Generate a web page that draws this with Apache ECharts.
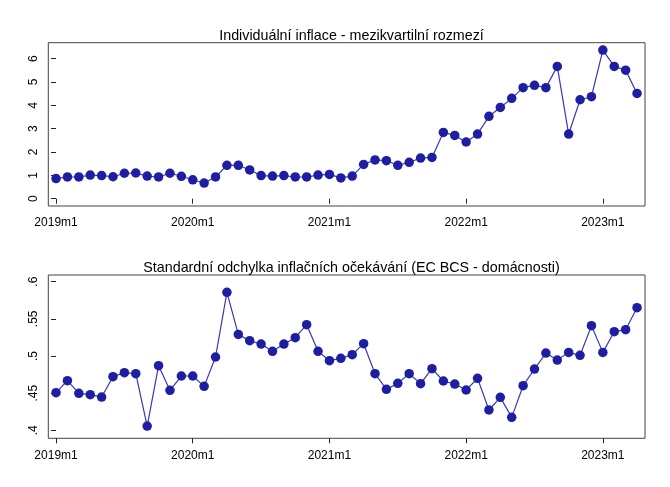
<!DOCTYPE html>
<html>
<head>
<meta charset="utf-8">
<script src="https://cdn.jsdelivr.net/npm/echarts@6/dist/echarts.min.js"></script>
<style>
  html, body { margin: 0; padding: 0; background: #fff; }
  #chart { width: 670px; height: 487px; }
</style>
</head>
<body>
<div id="chart"></div>
<script>
// months 2019m1 .. 2023m4
const months = [];
for (let y = 2019; y <= 2023; y++) {
  for (let m = 1; m <= 12; m++) {
    if (y === 2023 && m > 4) break;
    months.push(y + "m" + m);
  }
}

// individual inflation - interquartile range
const iqrValues = [
  0.86, 0.93, 0.93, 1.01, 0.99, 0.94, 1.09, 1.10, 0.97, 0.93, 1.09, 0.96,
  0.81, 0.67, 0.93, 1.43, 1.43, 1.23, 0.99, 0.97, 0.99, 0.93, 0.93, 1.01,
  1.04, 0.89, 0.97, 1.47, 1.66, 1.63, 1.43, 1.56, 1.74, 1.77, 2.84, 2.71,
  2.43, 2.77, 3.53, 3.91, 4.30, 4.76, 4.86, 4.76, 5.67, 2.77, 4.24, 4.37,
  6.37, 5.67, 5.51, 4.51
];

// std dev of inflation expectations (EC BCS - households)
const sdValues = [
  0.4507, 0.4668, 0.4498, 0.4480, 0.4448, 0.4722, 0.4776, 0.4762, 0.4058, 0.4870, 0.4538, 0.4731,
  0.4731, 0.4592, 0.4987, 0.5857, 0.5291, 0.5206, 0.5161, 0.5063, 0.5161, 0.5247, 0.5422, 0.5063,
  0.4937, 0.4969, 0.5018, 0.5166, 0.4762, 0.4552, 0.4632, 0.4762, 0.4628, 0.4830, 0.4664, 0.4623,
  0.4543, 0.4700, 0.4274, 0.4444, 0.4175, 0.4601, 0.4825, 0.5040, 0.4946, 0.5049, 0.5009, 0.5408,
  0.5049, 0.5327, 0.5354, 0.5650
];

const xTickIdx = [0, 12, 24, 36, 48];
const yTicksTop = [0, 1, 2, 3, 4, 5, 6];
const yTicksBottom = [0.4, 0.45, 0.5, 0.55, 0.6];
const yLabelsBottom = [".4", ".45", ".5", ".55", ".6"];

const titles = [
  "Individuální inflace - mezikvartilní rozmezí",
  "Standardní odchylka inflačních očekávání (EC BCS - domácnosti)"
];

const FONT = "Arial, 'Liberation Sans', sans-serif";
const lineCol = "#3838b2";
const dotCol = "#1e1ea2";

const chart = echarts.init(document.getElementById("chart"), null, { renderer: "canvas" });

function xAxisFor(gridIndex) {
  return {
    type: "value",
    gridIndex: gridIndex,
    min: -0.68,
    max: 51.7,
    axisLine: { show: false },
    splitLine: { show: false },
    axisTick: { show: true, length: 5, customValues: xTickIdx, lineStyle: { color: "#222" } },
    axisLabel: {
      customValues: xTickIdx,
      formatter: v => months[Math.round(v)],
      color: "#000",
      fontSize: 12,
      fontFamily: FONT,
      margin: 11
    }
  };
}

function yAxisFor(gridIndex, min, max, ticks, fmt) {
  return {
    type: "value",
    gridIndex: gridIndex,
    min: min,
    max: max,
    axisLine: { show: false },
    splitLine: { show: false },
    axisTick: { show: true, length: 5, customValues: ticks, lineStyle: { color: "#222" } },
    axisLabel: {
      customValues: ticks,
      formatter: fmt,
      rotate: 90,
      color: "#000",
      fontSize: 12,
      fontFamily: FONT,
      margin: 9
    }
  };
}

function seriesFor(idx, vals) {
  return {
    type: "line",
    xAxisIndex: idx,
    yAxisIndex: idx,
    data: vals.map((v, i) => [i, v]),
    symbol: "circle",
    symbolSize: 9.5,
    showAllSymbol: true,
    lineStyle: { color: lineCol, width: 1.2 },
    itemStyle: { color: dotCol },
    animation: false
  };
}

chart.setOption({
  backgroundColor: "#fff",
  animation: false,
  title: [
    { text: titles[0], left: 346.5, top: 24, textAlign: "center",
      textStyle: { fontSize: 14.3, fontWeight: "normal", color: "#000", fontFamily: FONT } },
    { text: titles[1], left: 346.5, top: 256, textAlign: "center",
      textStyle: { fontSize: 14.3, fontWeight: "normal", color: "#000", fontFamily: FONT } }
  ],
  grid: [
    { left: 48.3, right: 25, top: 42.7, height: 163.3, show: true, borderColor: "#444", borderWidth: 1, backgroundColor: "#fff" },
    { left: 48.3, right: 25, top: 275, height: 163.3, show: true, borderColor: "#444", borderWidth: 1, backgroundColor: "#fff" }
  ],
  xAxis: [xAxisFor(0), xAxisFor(1)],
  yAxis: [
    yAxisFor(0, -0.314, 6.686, yTicksTop, v => String(Math.round(v))),
    yAxisFor(1, 0.3893, 0.609, yTicksBottom, v => {
      const k = yTicksBottom.findIndex(t => Math.abs(t - v) < 1e-6);
      return k >= 0 ? yLabelsBottom[k] : "";
    })
  ],
  series: [seriesFor(0, iqrValues), seriesFor(1, sdValues)]
});
</script>
</body>
</html>
